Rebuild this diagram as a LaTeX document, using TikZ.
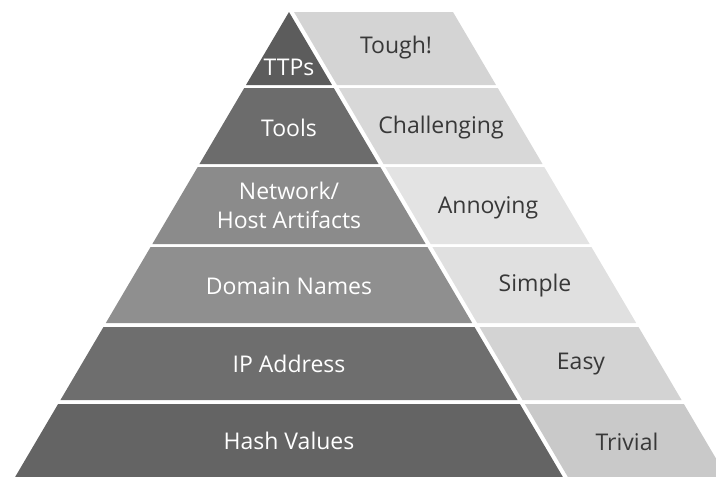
\documentclass[tikz,border=0pt]{standalone}
\usepackage{fontspec}
\setmainfont{Open Sans}
% band colours, top to bottom
\definecolor{indA}{HTML}{5C5C5C}
\definecolor{indB}{HTML}{6C6C6C}
\definecolor{indC}{HTML}{8B8B8B}
\definecolor{indD}{HTML}{8F8F8F}
\definecolor{indE}{HTML}{6E6E6E}
\definecolor{indF}{HTML}{646464}
\definecolor{painA}{HTML}{D4D4D4}
\definecolor{painB}{HTML}{D8D8D8}
\definecolor{painC}{HTML}{E3E3E3}
\definecolor{painD}{HTML}{E0E0E0}
\definecolor{painE}{HTML}{D3D3D3}
\definecolor{painF}{HTML}{C9C9C9}
\definecolor{painText}{HTML}{383838}
\begin{document}
\begin{tikzpicture}[x=1pt,y=-1pt,
  lvl/.style={font=\fontsize{23}{29}\selectfont, align=center, inner sep=0pt},
  ind/.style={lvl, text=white},
  pain/.style={lvl, text=painText}]
\useasboundingbox (0,0) rectangle (716,477);
\clip (0,0) rectangle (716,477);
% slope of the pyramid sides (x per unit of y)
\def\s{0.589}
\foreach \tp/\bt/\lc/\rc in {12/85/indA/painA, 88/164/indB/painB, 167/244/indC/painC,
    247/323/indD/painD, 327/400/indE/painE, 404/477/indF/painF} {
  % indicator band (left triangle slice)
  \fill[\lc] ({289-\s*(\bt-12)},\bt) -- ({289-\s*(\tp-12)},\tp)
    -- ({289+\s*(\tp-12)},\tp) -- ({289+\s*(\bt-12)},\bt) -- cycle;
  % difficulty band (right slanted slice)
  \fill[\rc] ({294+\s*(\tp-12)},\tp) -- ({453+\s*(\tp-12)},\tp)
    -- ({453+\s*(\bt-12)},\bt) -- ({294+\s*(\bt-12)},\bt) -- cycle;
}
% indicator labels
\node[ind] (ttps)      at (289,67)  {TTPs};
\node[ind] (tools)     at (289,128) {Tools};
\node[ind] (artifacts) at (289,205) {Network/\\Host Artifacts};
\node[ind] (domains)   at (289,286) {Domain Names};
\node[ind] (ip)        at (289,364) {IP Address};
\node[ind] (hash)      at (289,441) {Hash Values};
% difficulty labels
\node[pain] (tough)       at (396,48)  {Tough!};
\node[pain] (challenging) at (441,128) {Challenging};
\node[pain] (annoying)    at (488,208) {Annoying};
\node[pain] (simple)      at (535,286) {Simple};
\node[pain] (easy)        at (581,364) {Easy};
\node[pain] (trivial)     at (627,442) {Trivial};
\end{tikzpicture}
\end{document}
